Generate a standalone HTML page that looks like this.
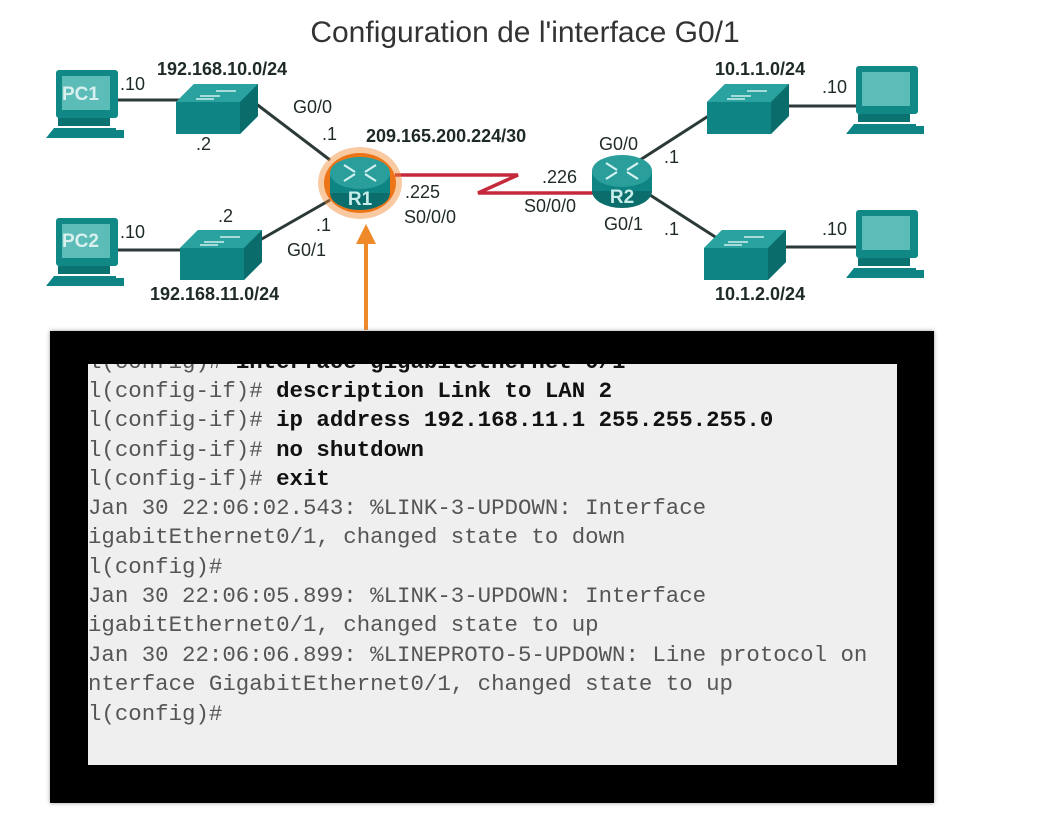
<!DOCTYPE html>
<html><head><meta charset="utf-8"><style>
body{margin:0;background:#fff;width:1040px;height:840px;overflow:hidden;position:relative;font-family:"Liberation Sans",sans-serif}
.t{position:absolute;white-space:pre;font-family:"Liberation Mono",monospace;font-size:22.4px;color:#555;left:88px}
.t b{color:#111}
</style></head><body>
<svg width="1040" height="840" style="position:absolute;left:0;top:0">
<defs>
<g id="sw"><polygon points="0,18 18,0 82,0 82,32 64,50 0,50" fill="#0e8584"/><polygon points="0,18 18,0 82,0 64,18" fill="#2aa3a0"/><polygon points="64,18 82,0 82,32 64,50" fill="#0a6d6c"/>
<path d="M24,12h20M40,7h20M20,15h18" stroke="#cfeeee" stroke-width="1.5"/></g>
<g id="pc"><rect x="10" y="0" width="62" height="48" rx="3" fill="#0f8886"/><rect x="16" y="6" width="48" height="34" fill="#5cbcb8"/><polygon points="0,68 8,58 70,58 70,68" fill="#0e8584"/><rect x="12" y="48" width="52" height="8" fill="#0a7270"/><rect x="68" y="60" width="10" height="8" fill="#0e8584"/></g>
<g id="rt"><ellipse cx="0" cy="12" rx="30" ry="17" fill="#0b6e6d"/><rect x="-30" y="-8" width="60" height="20" fill="#0f8583"/><ellipse cx="0" cy="-8" rx="30" ry="16" fill="#2a9e9b"/>
<path d="M-16,-16l11,7M16,-16l-11,7M-16,0l11,-7M16,0l-11,-7" stroke="#d5f2f2" stroke-width="2.2"/></g>
</defs>
<text x="525" y="42" text-anchor="middle" font-size="30" fill="#333">Configuration de l'interface G0/1</text>
<g stroke="#2b3a38" stroke-width="3">
<line x1="118" y1="100" x2="180" y2="100"/><line x1="255" y1="103" x2="330" y2="160"/>
<line x1="118" y1="250" x2="185" y2="250"/><line x1="260" y1="240" x2="330" y2="200"/>
<line x1="640" y1="160" x2="710" y2="115"/><line x1="650" y1="195" x2="720" y2="240"/>
<line x1="785" y1="106" x2="860" y2="106"/><line x1="782" y1="247" x2="860" y2="247"/>
</g>
<path d="M395,175H518L478,193H598" stroke="#c42a3c" stroke-width="3.5" fill="none"/>
<use href="#sw" x="176" y="84"/><use href="#sw" x="180" y="230"/>
<use href="#sw" x="707" y="84"/><use href="#sw" x="704" y="230"/>
<use href="#pc" x="46" y="70"/><use href="#pc" x="46" y="218"/>
<use href="#pc" x="846" y="66"/><use href="#pc" x="846" y="210"/>
<text x="62" y="100" font-size="19" font-weight="bold" fill="#d8f0ee">PC1</text>
<text x="62" y="247" font-size="19" font-weight="bold" fill="#d8f0ee">PC2</text>
<ellipse cx="360" cy="183" rx="42" ry="36" fill="#f28a2e" opacity="0.45"/>
<ellipse cx="360" cy="183" rx="36" ry="30" fill="#ee7418"/>
<use href="#rt" x="360" y="181"/>
<use href="#rt" x="622" y="179"/>
<text x="360" y="205" text-anchor="middle" font-size="19" font-weight="bold" fill="#c8ecea">R1</text>
<text x="622" y="203" text-anchor="middle" font-size="19" font-weight="bold" fill="#c8ecea">R2</text>
<path d="M366,330V240" stroke="#ef8a2a" stroke-width="4"/><polygon points="356,244 366,224 376,244" fill="#ef8a2a"/>
<g font-size="18" fill="#1e2a28">
<text x="157" y="75" font-weight="bold" font-size="18">192.168.10.0/24</text>
<text x="150" y="300" font-weight="bold" font-size="18">192.168.11.0/24</text>
<text x="366" y="142" font-weight="bold" font-size="18">209.165.200.224/30</text>
<text x="715" y="75" font-weight="bold" font-size="18">10.1.1.0/24</text>
<text x="715" y="300" font-weight="bold" font-size="18">10.1.2.0/24</text>
<text x="120" y="90">.10</text><text x="120" y="238">.10</text>
<text x="196" y="150">.2</text><text x="218" y="222">.2</text>
<text x="293" y="113">G0/0</text><text x="322" y="140">.1</text>
<text x="316" y="231">.1</text><text x="287" y="256">G0/1</text>
<text x="405" y="198">.225</text><text x="404" y="223">S0/0/0</text>
<text x="542" y="183">.226</text><text x="524" y="212">S0/0/0</text>
<text x="599" y="150">G0/0</text><text x="604" y="230">G0/1</text>
<text x="664" y="163">.1</text><text x="664" y="235">.1</text>
<text x="822" y="93">.10</text><text x="822" y="235">.10</text>
</g>
</svg>
<div style="position:absolute;left:50px;top:331px;width:884px;height:472px;background:#000;box-shadow:0 0 4px #999"></div>
<div style="position:absolute;left:88px;top:364px;width:809px;height:401px;background:#efefef;overflow:hidden">
<div class="t" style="left:0;top:-15px">l(config)# <b>interface gigabitethernet 0/1</b></div>
</div>
<div class="t" style="top:378px">l(config-if)# <b>description Link to LAN 2</b></div>
<div class="t" style="top:407px">l(config-if)# <b>ip address 192.168.11.1 255.255.255.0</b></div>
<div class="t" style="top:437px">l(config-if)# <b>no shutdown</b></div>
<div class="t" style="top:466px">l(config-if)# <b>exit</b></div>
<div class="t" style="top:495px">Jan 30 22:06:02.543: %LINK-3-UPDOWN: Interface</div>
<div class="t" style="top:524px">igabitEthernet0/1, changed state to down</div>
<div class="t" style="top:554px">l(config)#</div>
<div class="t" style="top:583px">Jan 30 22:06:05.899: %LINK-3-UPDOWN: Interface</div>
<div class="t" style="top:612px">igabitEthernet0/1, changed state to up</div>
<div class="t" style="top:642px">Jan 30 22:06:06.899: %LINEPROTO-5-UPDOWN: Line protocol on</div>
<div class="t" style="top:671px">nterface GigabitEthernet0/1, changed state to up</div>
<div class="t" style="top:701px">l(config)#</div>
</body></html>
